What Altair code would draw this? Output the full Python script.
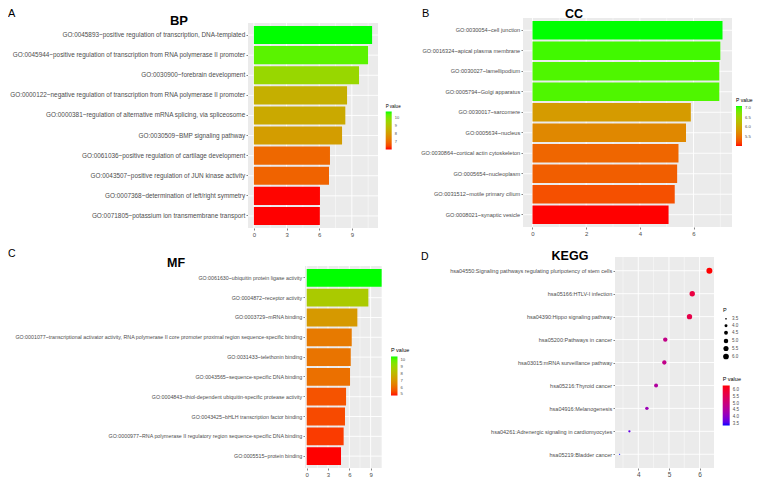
import altair as alt
import pandas as pd

FONT = "Liberation Sans"
PANEL_BG = "#EBEBEB"
TEXT_GREY = "#4D4D4D"
TICK_GREY = "#333333"

# ---------------- data ----------------
bp_terms = [
    "GO:0045893~positive regulation of transcription, DNA-templated",
    "GO:0045944~positive regulation of transcription from RNA polymerase II promoter",
    "GO:0030900~forebrain development",
    "GO:0000122~negative regulation of transcription from RNA polymerase II promoter",
    "GO:0000381~regulation of alternative mRNA splicing, via spliceosome",
    "GO:0030509~BMP signaling pathway",
    "GO:0061036~positive regulation of cartilage development",
    "GO:0043507~positive regulation of JUN kinase activity",
    "GO:0007368~determination of left/right symmetry",
    "GO:0071805~potassium ion transmembrane transport",
]
bp_pvalue = [10.86, 10.49, 9.66, 8.56, 8.40, 8.10, 6.99, 6.90, 6.07, 6.06]

cc_terms = [
    "GO:0030054~cell junction",
    "GO:0016324~apical plasma membrane",
    "GO:0030027~lamellipodium",
    "GO:0005794~Golgi apparatus",
    "GO:0030017~sarcomere",
    "GO:0005634~nucleus",
    "GO:0030864~cortical actin cytoskeleton",
    "GO:0005654~nucleoplasm",
    "GO:0031512~motile primary cilium",
    "GO:0008021~synaptic vesicle",
]
cc_pvalue = [7.08, 7.00, 6.96, 6.96, 5.90, 5.72, 5.44, 5.39, 5.30, 5.07]

mf_terms = [
    "GO:0061630~ubiquitin protein ligase activity",
    "GO:0004872~receptor activity",
    "GO:0003729~mRNA binding",
    "GO:0001077~transcriptional activator activity, RNA polymerase II core promoter proximal region sequence-specific binding",
    "GO:0031433~telethonin binding",
    "GO:0043565~sequence-specific DNA binding",
    "GO:0004843~thiol-dependent ubiquitin-specific protease activity",
    "GO:0043425~bHLH transcription factor binding",
    "GO:0000977~RNA polymerase II regulatory region sequence-specific DNA binding",
    "GO:0005515~protein binding",
]
mf_pvalue = [10.55, 8.68, 7.13, 6.34, 6.20, 6.10, 5.54, 5.39, 5.20, 4.83]

kegg_terms = [
    "hsa04550:Signaling pathways regulating pluripotency of stem cells",
    "hsa05166:HTLV-I infection",
    "hsa04390:Hippo signaling pathway",
    "hsa05200:Pathways in cancer",
    "hsa03015:mRNA surveillance pathway",
    "hsa05216:Thyroid cancer",
    "hsa04916:Melanogenesis",
    "hsa04261:Adrenergic signaling in cardiomyocytes",
    "hsa05219:Bladder cancer",
]
kegg_p = [6.32, 5.76, 5.67, 4.88, 4.85, 4.58, 4.28, 3.71, 3.39]

bp_ticks, bp_minor = [0, 3, 6, 9], [1.5, 4.5, 7.5, 10.5]
cc_ticks, cc_minor = [0, 2, 4, 6], [1, 3, 5, 7]
mf_ticks, mf_minor = [0, 3, 6, 9], [1.5, 4.5, 7.5, 10.5]
kegg_ticks, kegg_minor = [4, 5, 6], [3.5, 4.5, 5.5]
bp_legend_vals = [7, 8, 9, 10]
cc_legend_vals = [5.5, 6.0, 6.5, 7.0]
mf_legend_vals = [5, 6, 7, 8, 9, 10]
kegg_legend_vals = [3.5, 4.0, 4.5, 5.0, 5.5, 6.0]

dummy = pd.DataFrame({"k": [0]})


def y_axis(fs, offset):
    return alt.Axis(title=None, labelFont=FONT, labelFontSize=fs, labelColor=TEXT_GREY,
                    labelLimit=2000, labelPadding=1.3, tickSize=2, tickColor=TICK_GREY,
                    tickWidth=0.6, domain=False, grid=False, labelOverlap=False,
                    offset=offset)


def x_axis(values, fs):
    return alt.Axis(title=None, values=values, format="d", labelFont=FONT, labelFontSize=fs,
                    labelColor=TEXT_GREY, labelPadding=1.3, tickSize=2, tickColor=TICK_GREY,
                    tickWidth=0.6, domain=False, grid=False, labelFlush=False,
                    labelOverlap=False)


def gradient_legend(values, fmt, x, y, length, thick, title_fs, label_fs):
    return alt.Legend(title="P value", orient="none", legendX=x, legendY=y,
                      direction="vertical", values=values, format=fmt,
                      gradientLength=length, gradientThickness=thick, gradientStrokeWidth=0,
                      titleFont=FONT, titleFontSize=title_fs, titleFontWeight="normal",
                      titleColor="black", titlePadding=3, labelFont=FONT,
                      labelFontSize=label_fs, labelColor=TEXT_GREY, labelOffset=3,
                      padding=0, labelOverlap=False)


def label_text(txt, x, y, fs, bold, align="left"):
    return alt.Chart(dummy).mark_text(
        text=txt, font=FONT, fontSize=fs, fontWeight="bold" if bold else "normal",
        align=align, baseline="alphabetic", color="black"
    ).encode(x=alt.value(x), y=alt.value(y))


def panel_bg(gx0, gx1, gy0, gy1):
    return alt.Chart(dummy).mark_rect(color=PANEL_BG).encode(
        x=alt.value(gx0), x2=alt.value(gx1), y=alt.value(gy0), y2=alt.value(gy1))


def vgrid(values, xs, xa, gy0, gy1, width):
    return alt.Chart(pd.DataFrame({"g": values})).mark_rule(
        color="white", strokeWidth=width).encode(
        x=alt.X("g:Q", scale=xs, axis=xa), y=alt.value(gy0), y2=alt.value(gy1))


def bar_panel(terms, pvals, w, h, grey, x_dom, ticks, minor, y_fs, legend, texts):
    gx0, gx1, gy0, gy1 = grey
    df = pd.DataFrame({"term": terms, "pvalue": pvals})
    xs = alt.Scale(domain=x_dom, nice=False, zero=False, range=[gx0, gx1])
    ys = alt.Scale(paddingInner=0.1, paddingOuter=0.15, range=[gy0, gy1])
    xa = x_axis(ticks, 6)
    ya = y_axis(y_fs, -gx0)
    hgrid = alt.Chart(df).mark_rule(color="white", strokeWidth=0.9).encode(
        y=alt.Y("term:N", sort=terms, scale=ys, axis=ya), x=alt.value(gx0), x2=alt.value(gx1))
    bars = alt.Chart(df).mark_bar().encode(
        y=alt.Y("term:N", sort=terms, scale=ys, axis=ya),
        x=alt.X("pvalue:Q", scale=xs, axis=xa),
        color=alt.Color("pvalue:Q",
                        scale=alt.Scale(domain=[min(pvals), max(pvals)],
                                        range=["#FF0000", "#00FF00"], interpolate="lab"),
                        legend=legend),
    )
    layers = [panel_bg(gx0, gx1, gy0, gy1),
              vgrid(minor, xs, xa, gy0, gy1, 0.45),
              vgrid(ticks, xs, xa, gy0, gy1, 0.9),
              hgrid, bars] + texts
    return alt.layer(*layers).properties(width=w, height=h)


# page layout: col 0 views start at x=248, col 1 at x=523; row 0 at y=18, row 1 at y=257
bp = bar_panel(
    bp_terms, bp_pvalue, 130, 210, (0, 130, 5, 210), [-0.543, 11.403], bp_ticks, bp_minor, 6.4,
    gradient_legend(bp_legend_vals, "d", 137.7, 86, 38, 6, 4.5, 4),
    [label_text("A", -240, -1, 11, False),
     label_text("BP", -69, 7, 13, True, "center"),
     alt.Chart(dummy).mark_rule(opacity=0, strokeWidth=0).encode(
         x=alt.value(-240), x2=alt.value(-240), y=alt.value(-10), y2=alt.value(-10))])

cc = bar_panel(
    cc_terms, cc_pvalue, 209, 209, (0, 209, 0, 209), [-0.354, 7.434], cc_ticks, cc_minor, 5.6,
    gradient_legend(cc_legend_vals, ".1f", 213, 80, 40, 6, 5, 4.2),
    [label_text("B", -101, -1, 11, False),
     label_text("CC", 51, 0, 12.5, True, "center")])

mf = bar_panel(
    mf_terms, mf_pvalue, 134, 211, (57, 134, 9, 211), [-0.24, 10.6], mf_ticks, mf_minor, 5.3,
    gradient_legend(mf_legend_vals, "d", 143, 91, 39, 6.5, 5.5, 4.2),
    [label_text("C", -240, 0, 10.5, False),
     label_text("MF", -72, 10, 12.5, True, "center")])

# KEGG bubble panel
kgx0, kgx1, kgy0, kgy1 = 92, 191, 0, 211
kdf = pd.DataFrame({"pathway": kegg_terms, "p": kegg_p, "p_size": kegg_p, "p_color": kegg_p})
k_xs = alt.Scale(domain=[3.24, 6.47], nice=False, zero=False, range=[kgx0, kgx1])
k_ys = alt.Scale(type="point", padding=0.6, range=[kgy0, kgy1])
k_xa = x_axis(kegg_ticks, 6.5)
k_ya = y_axis(5.5, -kgx0)
k_hgrid = alt.Chart(kdf).mark_rule(color="white", strokeWidth=0.9).encode(
    y=alt.Y("pathway:N", sort=kegg_terms, scale=k_ys, axis=k_ya),
    x=alt.value(kgx0), x2=alt.value(kgx1))
k_points = alt.Chart(kdf).mark_circle(opacity=1).encode(
    y=alt.Y("pathway:N", sort=kegg_terms, scale=k_ys, axis=k_ya),
    x=alt.X("p:Q", scale=k_xs, axis=k_xa),
    size=alt.Size("p_size:Q", scale=alt.Scale(domain=[min(kegg_p), max(kegg_p)], range=[1.5, 36]),
                  legend=alt.Legend(title="P", orient="none", legendX=200, legendY=51,
                                    direction="vertical", values=kegg_legend_vals, format=".1f",
                                    symbolType="circle", symbolFillColor="black",
                                    symbolStrokeColor="black", symbolStrokeWidth=0,
                                    symbolOpacity=1, titleFont=FONT, titleFontSize=5.5,
                                    titleFontWeight="normal", titleColor="black",
                                    titlePadding=3, labelFont=FONT, labelFontSize=4.5,
                                    labelColor=TEXT_GREY, labelOffset=3, rowPadding=2,
                                    padding=0)),
    color=alt.Color("p_color:Q",
                    scale=alt.Scale(domain=[min(kegg_p) - 0.001, max(kegg_p) + 0.001],
                                    range=["#0000FF", "#FF0000"], interpolate="lab"),
                    legend=gradient_legend(kegg_legend_vals, ".1f", 199.7, 120, 40, 7, 5.5, 4.5)),
)
kegg = alt.layer(
    panel_bg(kgx0, kgx1, kgy0, kgy1),
    vgrid(kegg_minor, k_xs, k_xa, kgy0, kgy1, 0.45),
    vgrid(kegg_ticks, k_xs, k_xa, kgy0, kgy1, 0.9),
    k_hgrid, k_points,
    label_text("D", -102, 3, 10.5, False),
    label_text("KEGG", 47, 3, 12.5, True, "center"),
).properties(width=191, height=211)

chart = alt.concat(
    bp, cc, mf, kegg, columns=2, align="each", bounds="flush",
    spacing={"row": 29, "column": 141}
).resolve_scale(
    color="independent", size="independent", x="independent", y="independent"
).resolve_legend(color="independent", size="independent").properties(
    padding=0, background="white"
).configure_view(stroke=None)

chart.save("out.html", embed_options={"renderer": "svg", "actions": False})
